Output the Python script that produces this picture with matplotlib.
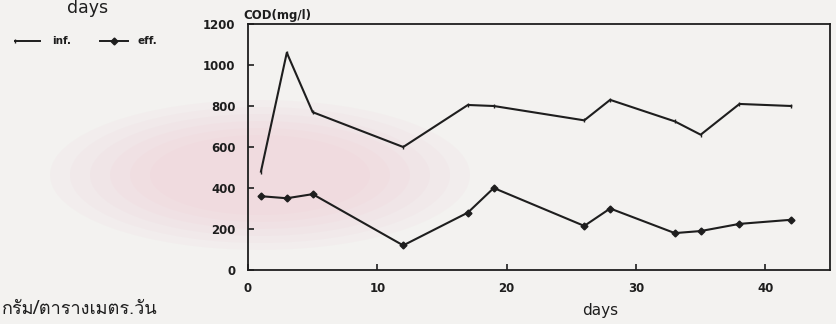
import matplotlib
matplotlib.use("Agg")
import matplotlib.pyplot as plt
from matplotlib import font_manager
from matplotlib.ft2font import FT2Font
from matplotlib.lines import Line2D
from matplotlib.patches import Ellipse

days_inf = [1, 3, 5, 12, 17, 19, 26, 28, 33, 35, 38, 42]
cod_inf = [480, 1060, 770, 600, 805, 800, 730, 830, 725, 660, 810, 800]
days_eff = [1, 3, 5, 12, 17, 19, 26, 28, 33, 35, 38, 42]
cod_eff = [360, 350, 370, 120, 280, 400, 215, 300, 180, 190, 225, 245]
yticks = [0, 200, 400, 600, 800, 1000, 1200]
xticks = [0, 10, 20, 30, 40]


def thai_font():
    # pick any installed font that has Thai glyphs
    for f in font_manager.fontManager.ttflist:
        try:
            if FT2Font(f.fname).get_char_index(0x0E01):
                return f.name
        except Exception:
            pass
    return "DejaVu Sans"


ink = "#1e1e1e"
paper = "#f3f2f0"
plt.rcParams["font.family"] = ["DejaVu Sans"]

fig = plt.figure(figsize=(8.36, 3.24), dpi=100, facecolor=paper)
W, H = 836, 324

# faint, soft pink watermark blob from the scanned page
for k in range(6):
    fig.add_artist(Ellipse((260 / W, 1 - 175 / H), (420 - 40 * k) / W, (150 - 14 * k) / H,
                           color="#f0b8c6", alpha=0.07, zorder=0, lw=0))

ax = fig.add_axes([248 / W, 1 - 270 / H, 582 / W, 246 / H])
ax.set_facecolor("none")

ax.plot(days_inf, cod_inf, color=ink, lw=1.5, marker="|", ms=3, mew=1)
ax.plot(days_eff, cod_eff, color=ink, lw=1.5, marker="D", ms=3.5)

ax.set_xlim(0, 45)
ax.set_ylim(0, 1200)
ax.set_xticks(xticks)
ax.set_yticks(yticks)
ax.tick_params(direction="in", length=4, width=1.2, colors=ink, labelsize=8.5)
ax.tick_params(axis="x", pad=9)
ax.tick_params(axis="y", pad=9)
for t in ax.get_xticklabels() + ax.get_yticklabels():
    t.set_fontweight("bold")
for s in ax.spines.values():
    s.set_linewidth(1.3)
    s.set_color(ink)

fig.text(600 / W, 1 - 311 / H, "days", fontsize=11, color=ink, ha="center", va="center")
fig.text(243 / W, 1 - 15 / H, "COD(mg/l)", fontsize=8.5, color=ink, fontweight="bold",
         va="center")
fig.text(88 / W, 1 - 8 / H, "days", fontsize=12.5, color=ink, ha="center", va="center")

# hand-placed legend
y_leg = 1 - 41 / H
fig.add_artist(Line2D([15 / W, 40 / W], [y_leg, y_leg], color=ink, lw=1.4,
                      marker="|", ms=3, markevery=[0], transform=fig.transFigure))
fig.add_artist(Line2D([100 / W, 128 / W], [y_leg, y_leg], color=ink, lw=1.4,
                      transform=fig.transFigure))
fig.add_artist(Line2D([114 / W], [y_leg], color=ink, marker="D", ms=3.5,
                      transform=fig.transFigure))
fig.text(52 / W, y_leg, "inf.", fontsize=7.5, color=ink, fontweight="bold", va="center")
fig.text(137 / W, y_leg, "eff.", fontsize=7.5, color=ink, fontweight="bold", va="center")

fig.text(0.002, 1 - 309 / H, "กรัม/ตารางเมตร.วัน", fontsize=13, color=ink,
         va="center", family=[thai_font(), "DejaVu Sans"])

fig.savefig("out.png", dpi=100, facecolor=fig.get_facecolor())
